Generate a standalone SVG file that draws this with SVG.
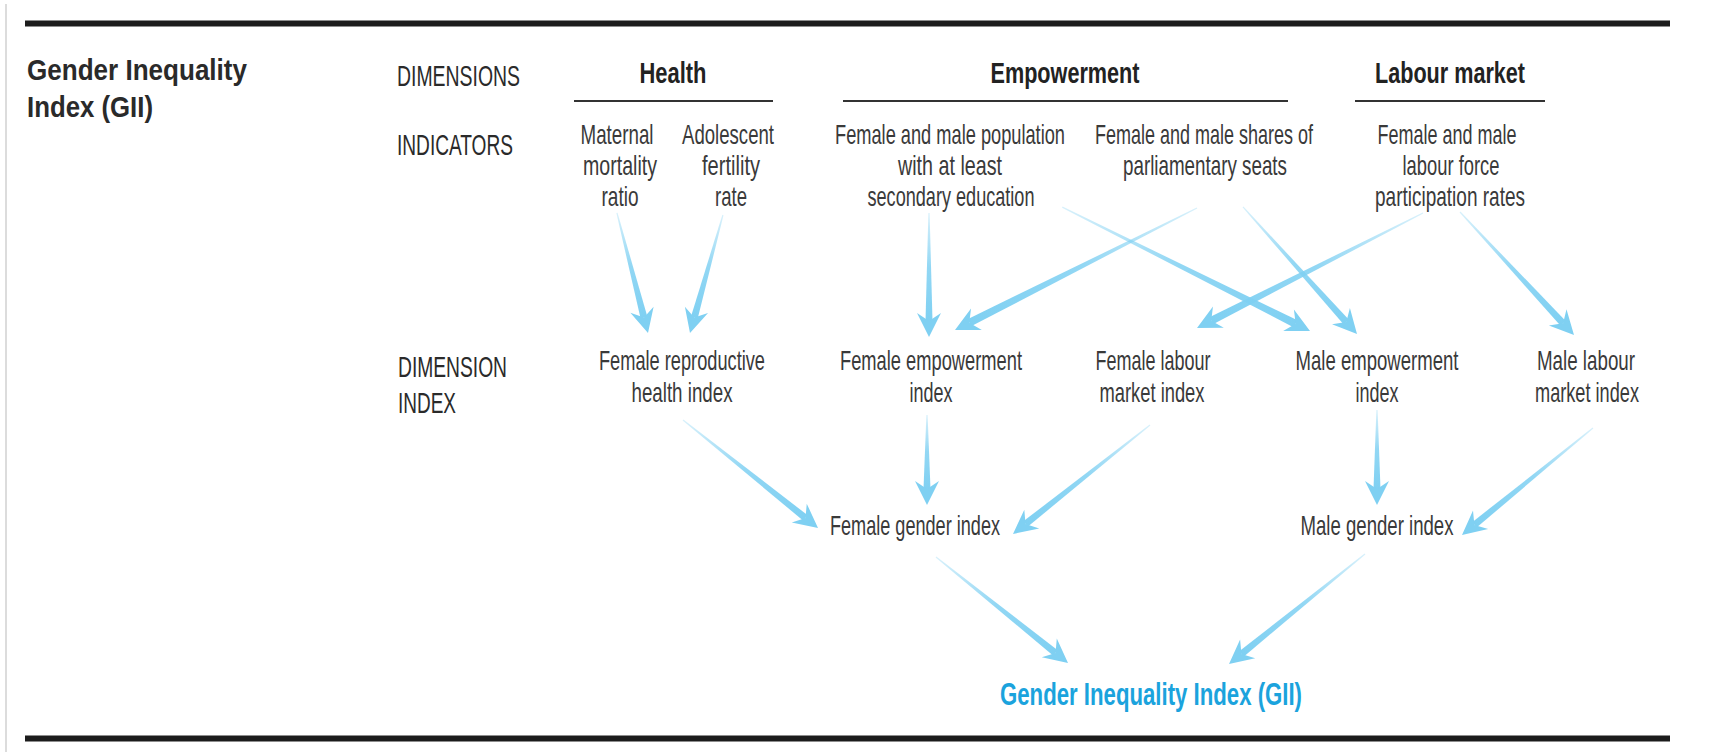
<svg xmlns="http://www.w3.org/2000/svg" xmlns:xlink="http://www.w3.org/1999/xlink" width="1730" height="752" viewBox="0 0 1730 752">
<style>
text{font-family:"Liberation Sans",Arial,sans-serif;}
.lbl{font-size:28px;fill:#3a3a3a;text-anchor:middle;}
.hd{font-size:30px;font-weight:bold;fill:#222;text-anchor:middle;}
.side{font-size:30px;fill:#2a2a2a;text-anchor:start;}
.ttl{font-size:30px;font-weight:bold;fill:#2a2a2a;text-anchor:start;}
.gii{font-size:31px;font-weight:bold;fill:#1ba3dd;text-anchor:middle;}
.rule{stroke:#1c1c1c;stroke-width:6;}
.sub{stroke:#333;stroke-width:2;}
.shaft{fill:url(#fade);}
.head{fill:#7fd0f2;}
</style>
<defs>
<linearGradient id="fade" x1="0" y1="0" x2="1" y2="0">
<stop offset="0" stop-color="#7fd0f2" stop-opacity="0.3"/>
<stop offset="0.5" stop-color="#7fd0f2" stop-opacity="0.85"/>
<stop offset="1" stop-color="#7fd0f2" stop-opacity="1"/>
</linearGradient>
<path id="ah" class="head" d="M0,0 L-24,-12 L-16,0 L-24,12 Z"/>
</defs>
<rect width="1730" height="752" fill="#fff"/>
<line x1="6" y1="4" x2="6" y2="752" stroke="#dcdcdc" stroke-width="2"/>
<line class="rule" x1="25" y1="23.5" x2="1670" y2="23.5"/>
<line class="rule" x1="25" y1="738.5" x2="1670" y2="738.5"/>

<g id="title">
<text class="ttl" x="27" y="80" textLength="220" lengthAdjust="spacingAndGlyphs">Gender Inequality</text>
<text class="ttl" x="27" y="117" textLength="126" lengthAdjust="spacingAndGlyphs">Index (GII)</text>
</g>
<g id="row-labels">
<text class="side" x="397" y="86" textLength="123" lengthAdjust="spacingAndGlyphs">DIMENSIONS</text>
<text class="side" x="397" y="155" textLength="116" lengthAdjust="spacingAndGlyphs">INDICATORS</text>
<text class="side" x="398" y="377" textLength="109" lengthAdjust="spacingAndGlyphs">DIMENSION</text>
<text class="side" x="398" y="413" textLength="58" lengthAdjust="spacingAndGlyphs">INDEX</text>
</g>

<g id="dim-health">
<text class="hd" x="673" y="83" textLength="67" lengthAdjust="spacingAndGlyphs">Health</text>
<line class="sub" x1="574" y1="101" x2="773" y2="101"/>
</g>
<g id="dim-empowerment">
<text class="hd" x="1065" y="83" textLength="149" lengthAdjust="spacingAndGlyphs">Empowerment</text>
<line class="sub" x1="843" y1="101" x2="1288" y2="101"/>
</g>
<g id="dim-labour">
<text class="hd" x="1450" y="83" textLength="150" lengthAdjust="spacingAndGlyphs">Labour market</text>
<line class="sub" x1="1355" y1="101" x2="1545" y2="101"/>
</g>

<g id="ind-maternal">
<text class="lbl" x="617" y="144" textLength="73" lengthAdjust="spacingAndGlyphs">Maternal</text>
<text class="lbl" x="620" y="175" textLength="74" lengthAdjust="spacingAndGlyphs">mortality</text>
<text class="lbl" x="620" y="206" textLength="37" lengthAdjust="spacingAndGlyphs">ratio</text>
</g>
<g id="ind-adolescent">
<text class="lbl" x="728" y="144" textLength="92" lengthAdjust="spacingAndGlyphs">Adolescent</text>
<text class="lbl" x="731" y="175" textLength="58" lengthAdjust="spacingAndGlyphs">fertility</text>
<text class="lbl" x="731" y="206" textLength="32" lengthAdjust="spacingAndGlyphs">rate</text>
</g>
<g id="ind-education">
<text class="lbl" x="950" y="144" textLength="230" lengthAdjust="spacingAndGlyphs">Female and male population</text>
<text class="lbl" x="950" y="175" textLength="104" lengthAdjust="spacingAndGlyphs">with at least</text>
<text class="lbl" x="951" y="206" textLength="167" lengthAdjust="spacingAndGlyphs">secondary education</text>
</g>
<g id="ind-parliament">
<text class="lbl" x="1204" y="144" textLength="218" lengthAdjust="spacingAndGlyphs">Female and male shares of</text>
<text class="lbl" x="1205" y="175" textLength="164" lengthAdjust="spacingAndGlyphs">parliamentary seats</text>
</g>
<g id="ind-labourforce">
<text class="lbl" x="1447" y="144" textLength="139" lengthAdjust="spacingAndGlyphs">Female and male</text>
<text class="lbl" x="1451" y="175" textLength="97" lengthAdjust="spacingAndGlyphs">labour force</text>
<text class="lbl" x="1450" y="206" textLength="150" lengthAdjust="spacingAndGlyphs">participation rates</text>
</g>

<g id="idx-reproductive">
<text class="lbl" x="682" y="370" textLength="166" lengthAdjust="spacingAndGlyphs">Female reproductive</text>
<text class="lbl" x="682" y="402" textLength="101" lengthAdjust="spacingAndGlyphs">health index</text>
</g>
<g id="idx-female-empowerment">
<text class="lbl" x="931" y="370" textLength="182" lengthAdjust="spacingAndGlyphs">Female empowerment</text>
<text class="lbl" x="931" y="402" textLength="43" lengthAdjust="spacingAndGlyphs">index</text>
</g>
<g id="idx-female-labour">
<text class="lbl" x="1153" y="370" textLength="115" lengthAdjust="spacingAndGlyphs">Female labour</text>
<text class="lbl" x="1152" y="402" textLength="105" lengthAdjust="spacingAndGlyphs">market index</text>
</g>
<g id="idx-male-empowerment">
<text class="lbl" x="1377" y="370" textLength="163" lengthAdjust="spacingAndGlyphs">Male empowerment</text>
<text class="lbl" x="1377" y="402" textLength="43" lengthAdjust="spacingAndGlyphs">index</text>
</g>
<g id="idx-male-labour">
<text class="lbl" x="1586" y="370" textLength="98" lengthAdjust="spacingAndGlyphs">Male labour</text>
<text class="lbl" x="1587" y="402" textLength="104" lengthAdjust="spacingAndGlyphs">market index</text>
</g>

<g id="female-gender-index">
<text class="lbl" x="915" y="535" textLength="170" lengthAdjust="spacingAndGlyphs">Female gender index</text>
</g>
<g id="male-gender-index">
<text class="lbl" x="1377" y="535" textLength="153" lengthAdjust="spacingAndGlyphs">Male gender index</text>
</g>
<g id="gii">
<text class="gii" x="1151" y="705" textLength="302" lengthAdjust="spacingAndGlyphs">Gender Inequality Index (GII)</text>
</g>

<g id="connectors">
<g transform="translate(648,333) rotate(75.5)"><polygon class="shaft" points="-124,-0.6 -16,-3.5 -16,3.5 -124,0.6"/><use xlink:href="#ah" href="#ah"/></g>
<g transform="translate(690,333) rotate(105.6)"><polygon class="shaft" points="-122.5,-0.6 -16,-3.5 -16,3.5 -122.5,0.6"/><use xlink:href="#ah" href="#ah"/></g>
<g transform="translate(929,337) rotate(90)"><polygon class="shaft" points="-124,-0.6 -16,-3.5 -16,3.5 -124,0.6"/><use xlink:href="#ah" href="#ah"/></g>
<g transform="translate(955,330) rotate(153.25)"><polygon class="shaft" points="-271,-0.6 -16,-4 -16,4 -271,0.6"/><use xlink:href="#ah" href="#ah"/></g>
<g transform="translate(1310,331) rotate(26.57)"><polygon class="shaft" points="-277,-0.6 -16,-4 -16,4 -277,0.6"/><use xlink:href="#ah" href="#ah"/></g>
<g transform="translate(1357,334) rotate(48.09)"><polygon class="shaft" points="-170.7,-0.6 -16,-3.5 -16,3.5 -170.7,0.6"/><use xlink:href="#ah" href="#ah"/></g>
<g transform="translate(1197,328) rotate(153.03)"><polygon class="shaft" points="-253.6,-0.6 -16,-4 -16,4 -253.6,0.6"/><use xlink:href="#ah" href="#ah"/></g>
<g transform="translate(1574,335) rotate(47.18)"><polygon class="shaft" points="-167.7,-0.6 -16,-3.5 -16,3.5 -167.7,0.6"/><use xlink:href="#ah" href="#ah"/></g>
<g transform="translate(818,528) rotate(38.66)"><polygon class="shaft" points="-172.9,-0.6 -16,-3.5 -16,3.5 -172.9,0.6"/><use xlink:href="#ah" href="#ah"/></g>
<g transform="translate(927,505) rotate(90)"><polygon class="shaft" points="-90,-0.6 -16,-3.5 -16,3.5 -90,0.6"/><use xlink:href="#ah" href="#ah"/></g>
<g transform="translate(1013,534) rotate(141.49)"><polygon class="shaft" points="-175.1,-0.6 -16,-3.5 -16,3.5 -175.1,0.6"/><use xlink:href="#ah" href="#ah"/></g>
<g transform="translate(1377,505) rotate(90)"><polygon class="shaft" points="-95,-0.6 -16,-3.5 -16,3.5 -95,0.6"/><use xlink:href="#ah" href="#ah"/></g>
<g transform="translate(1462,535) rotate(140.76)"><polygon class="shaft" points="-169.1,-0.6 -16,-3.5 -16,3.5 -169.1,0.6"/><use xlink:href="#ah" href="#ah"/></g>
<g transform="translate(1068,663) rotate(38.76)"><polygon class="shaft" points="-169.3,-0.6 -16,-3.5 -16,3.5 -169.3,0.6"/><use xlink:href="#ah" href="#ah"/></g>
<g transform="translate(1229,664) rotate(141.03)"><polygon class="shaft" points="-174.9,-0.6 -16,-3.5 -16,3.5 -174.9,0.6"/><use xlink:href="#ah" href="#ah"/></g>
</g>
</svg>
